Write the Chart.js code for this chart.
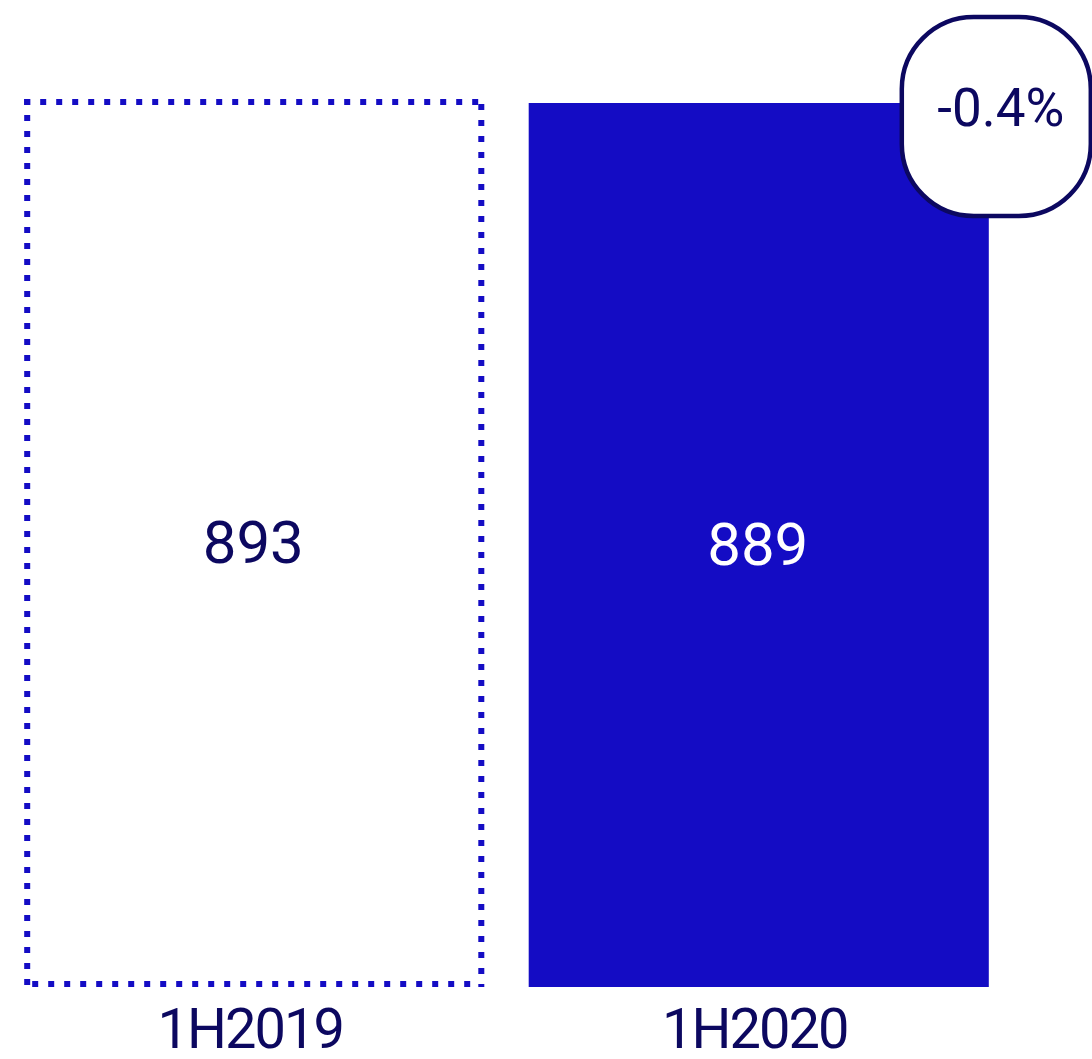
<!DOCTYPE html>
<html>
<head>
<meta charset="utf-8">
<script src="https://cdn.jsdelivr.net/npm/chart.js@4/dist/chart.umd.min.js"></script>
<style>
  html, body { margin: 0; padding: 0; background: #ffffff; }
  #wrap { width: 1092px; height: 1059px; position: relative; }
</style>
</head>
<body>
<div id="wrap"><canvas id="chart"></canvas></div>
<script>
// Half-year totals
const categories = ['1H2019', '1H2020'];
const totals = [893, 889];

const FONT = 'Roboto';
const WEIGHT = '400';
const NAVY = '#0c0860';
const BLUE = '#140cc4';

// Change between the two periods, shown in the badge
const changePct = ((totals[1] / totals[0]) - 1) * 100;
const changeLabel = (changePct > 0 ? '+' : '') + changePct.toFixed(1) + '%';

function barRect(chart, index) {
  const bar = chart.getDatasetMeta(0).data[index];
  const p = bar.getProps(['x', 'y', 'base', 'width'], true);
  return { L: p.x - p.width / 2, R: p.x + p.width / 2, T: p.y, B: p.base, cx: p.x };
}

// Slightly tighter tracking for the category labels on the x axis
const axisTracking = {
  id: 'axisTracking',
  beforeDraw(chart) { chart.ctx.letterSpacing = '-2px'; },
  beforeDatasetsDraw(chart) { chart.ctx.letterSpacing = '0px'; }
};

// Dotted outline for the earlier period's bar
const dottedOutline = {
  id: 'dottedOutline',
  afterDatasetsDraw(chart) {
    const ctx = chart.ctx;
    const { L, R, T, B } = barRect(chart, 0);
    const w = 6, h = w / 2;
    ctx.save();
    ctx.strokeStyle = BLUE;
    ctx.lineWidth = w;
    ctx.lineCap = 'butt';
    ctx.setLineDash([6, 10]);
    const seg = (x1, y1, x2, y2) => {
      ctx.beginPath(); ctx.moveTo(x1, y1); ctx.lineTo(x2, y2); ctx.stroke();
    };
    seg(L, T + h, R, T + h);          // top
    seg(R - h, T + 5, R - h, B);      // right
    seg(L + 8, B - h, R - 14, B - h); // bottom
    seg(L + h, T, L + h, B);          // left
    ctx.restore();
  }
};

// Value labels centred inside each bar
const valueLabels = {
  id: 'valueLabels',
  afterDatasetsDraw(chart) {
    const ctx = chart.ctx;
    const size = 60;
    ctx.save();
    ctx.font = `${WEIGHT} ${size}px ${FONT}`;
    ctx.textAlign = 'center';
    ctx.textBaseline = 'alphabetic';
    totals.forEach((v, i) => {
      const { T, B, cx } = barRect(chart, i);
      ctx.fillStyle = i === 0 ? NAVY : '#ffffff';
      ctx.fillText(String(v), cx - 1, (T + B) / 2 + size * 0.711 / 2 - 1);
    });
    ctx.restore();
  }
};

// Rounded badge with the period-on-period change
const changeBadge = {
  id: 'changeBadge',
  afterDraw(chart) {
    const ctx = chart.ctx;
    const { R } = barRect(chart, 1);
    const top = chart.chartArea.top - 82;
    const x = R - 87, y = top, w = 189, hgt = 199, r = 72;
    ctx.save();
    ctx.beginPath();
    ctx.roundRect(x, y, w, hgt, r);
    ctx.fillStyle = '#ffffff';
    ctx.fill();
    ctx.lineWidth = 4.5;
    ctx.strokeStyle = NAVY;
    ctx.stroke();
    ctx.font = `${WEIGHT} 53px ${FONT}`;
    ctx.fillStyle = NAVY;
    ctx.textAlign = 'center';
    ctx.textBaseline = 'alphabetic';
    ctx.fillText(changeLabel, x + 99, y + 109);
    ctx.restore();
  }
};

new Chart(document.getElementById('chart'), {
  type: 'bar',
  data: {
    labels: categories,
    datasets: [{
      data: totals,
      backgroundColor: ['rgba(0,0,0,0)', BLUE],
      borderWidth: 0,
      categoryPercentage: 1,
      barPercentage: 0.912
    }]
  },
  options: {
    responsive: true,
    maintainAspectRatio: false,
    animation: false,
    events: [],
    layout: { padding: { left: 2, right: 81, top: 99, bottom: 0 } },
    plugins: { legend: { display: false }, tooltip: { enabled: false } },
    scales: {
      x: {
        grid: { display: false, drawTicks: false },
        border: { display: false },
        afterFit(scale) { scale.height = 72; },
        ticks: {
          color: NAVY,
          padding: 22,
          labelOffset: -4,
          font: { family: FONT, size: 56, weight: WEIGHT, lineHeight: 0.9 }
        }
      },
      y: {
        display: false,
        min: 0,
        max: totals[0]
      }
    }
  },
  plugins: [axisTracking, dottedOutline, valueLabels, changeBadge]
});
</script>
</body>
</html>
